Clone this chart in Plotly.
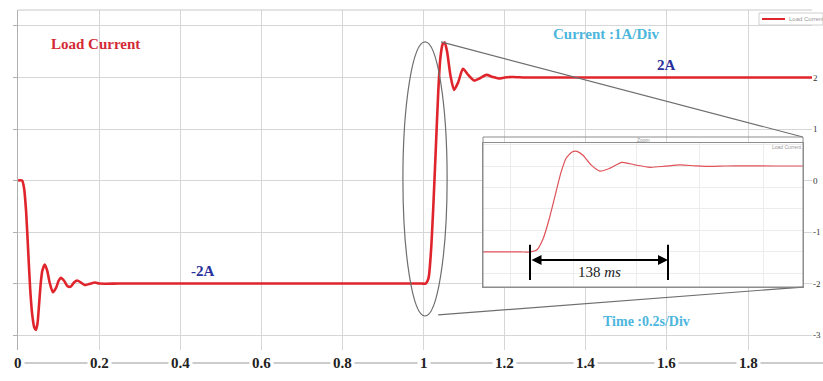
import plotly.graph_objects as go

# ---- load current waveform (time in s, current in A) ----
t_start = [0.000, 0.010, 0.015, 0.020, 0.025, 0.030, 0.035, 0.040, 0.044, 0.048,
           0.052, 0.056, 0.060, 0.066, 0.072, 0.078, 0.086, 0.094, 0.100, 0.106,
           0.114, 0.122, 0.130, 0.138, 0.146, 0.155, 0.165, 0.175, 0.190, 0.200,
           0.250, 0.400, 0.600, 0.800, 0.950, 0.995]
i_start = [0.00, 0.00, -0.15, -0.60, -1.35, -2.10, -2.60, -2.85, -2.90, -2.78,
           -2.40, -2.00, -1.75, -1.63, -1.75, -1.98, -2.17, -2.08, -1.95, -1.89,
           -1.95, -2.05, -2.06, -1.98, -1.94, -1.98, -2.03, -2.01, -1.98, -2.00,
           -2.00, -2.00, -2.00, -2.00, -2.00, -2.00]

t_step = [1.005, 1.012, 1.018, 1.024, 1.030, 1.036, 1.041, 1.047, 1.052, 1.058,
          1.066, 1.075, 1.085, 1.097, 1.110, 1.125, 1.140, 1.155, 1.170, 1.185,
          1.200, 1.220, 1.250, 1.300, 1.400, 1.600, 1.800, 2.000]
i_step = [-2.00, -1.90, -1.40, -0.50, 0.60, 1.70, 2.35, 2.65, 2.68, 2.50,
          2.05, 1.76, 1.90, 2.17, 2.05, 1.94, 1.99, 2.05, 2.01, 1.98,
          2.00, 2.01, 2.00, 2.00, 2.00, 2.00, 2.00, 2.00]

time = t_start + t_step
current = i_start + i_step

# axis ticks
x_ticks = [0, 0.2, 0.4, 0.6, 0.8, 1.0, 1.2, 1.4, 1.6, 1.8]
x_tick_text = ["0", "0.2", "0.4", "0.6", "0.8", "1", "1.2", "1.4", "1.6", "1.8"]
y_ticks = [-3, -2, -1, 0, 1, 2, 3]
y_right_ticks = [-3, -2, -1, 0, 1, 2]
y_right_text = ["-3", "-2", "-1", "0", "1", "2"]

# response time marker in the zoom window
rise_begin = 1.005
rise_time = 0.138

SERIF = "Liberation Serif"
RED = "#e0242c"
GRID = "#d6d6d6"

fig = go.Figure()

fig.add_trace(go.Scatter(
    x=time, y=current, mode="lines", name="Load Current",
    line=dict(color=RED, width=2.6, shape="spline", smoothing=0.6),
    xaxis="x", yaxis="y", showlegend=False, hoverinfo="skip"))

# zoomed view of the step
fig.add_trace(go.Scatter(
    x=time, y=current, mode="lines", name="Load Current",
    line=dict(color="#df5158", width=1.2, shape="spline", smoothing=0.6),
    xaxis="x2", yaxis="y2", showlegend=False, hoverinfo="skip"))

# invisible trace carrying the right-hand axis
fig.add_trace(go.Scatter(x=[0], y=[0], mode="markers", marker=dict(opacity=0),
                         xaxis="x", yaxis="y3", showlegend=False, hoverinfo="skip"))

H = 381.0
W = 823.0
def py(p):
    return 1 - p / H
def px(p):
    return p / W

fig.update_layout(
    width=823, height=381,
    margin=dict(l=0, r=0, t=0, b=0, autoexpand=False),
    paper_bgcolor="white", plot_bgcolor="white",
    xaxis=dict(domain=[px(18), px(812)], range=[0, 1.9576],
               tickvals=x_ticks, showticklabels=False, showgrid=True,
               gridcolor=GRID, gridwidth=1, zeroline=False, showline=False,
               ticks="", automargin=False),
    yaxis=dict(domain=[py(350), py(10)], range=[-3.29, 3.31],
               tickvals=y_ticks, showticklabels=False, showgrid=True,
               gridcolor=GRID, gridwidth=1, zeroline=False,
               showline=True, linecolor="#b0b0b0", linewidth=1,
               ticks="outside", ticklen=4, tickcolor="#b0b0b0", automargin=False),
    yaxis3=dict(overlaying="y", side="right", anchor="x", range=[-3.29, 3.31],
                tickvals=y_right_ticks, ticktext=y_right_text, showgrid=False,
                zeroline=False, showline=False, ticks="", automargin=False,
                tickfont=dict(family=SERIF, size=9, color="#333")),
    xaxis2=dict(domain=[px(483), px(803)], range=[0.958, 1.278], anchor="y2",
                tick0=0.985, dtick=0.0633, showticklabels=False,
                showgrid=True, gridcolor="#ececec", zeroline=False,
                showline=True, mirror=True, linecolor="#8c8c8c", ticks="",
                automargin=False),
    yaxis2=dict(domain=[py(287), py(143)], range=[-3.63, 3.07], anchor="x2",
                dtick=1, showticklabels=False, showgrid=True,
                gridcolor="#ececec", zeroline=False,
                showline=True, mirror=True, linecolor="#8c8c8c", ticks="",
                automargin=False),
)

shapes = []
# top frame line of the main plot
shapes.append(dict(type="line", xref="x domain", yref="y domain", x0=0, x1=1,
                   y0=1, y1=1, line=dict(color="#c8c8c8", width=1)))
# baseline under the time labels
shapes.append(dict(type="line", xref="paper", yref="paper", x0=px(18), x1=1,
                   y0=py(363), y1=py(363), line=dict(color="#9a9a9a", width=1)))
# magnifier ellipse around the step and its connector lines
shapes.append(dict(type="circle", xref="x", yref="y", x0=0.949, x1=1.058,
                   y0=-2.63, y1=2.69, line=dict(color="#6e6e6e", width=1.2)))
shapes.append(dict(type="line", xref="x", yref="y", x0=1.043, y0=2.69,
                   x1=1.935, y1=0.845, line=dict(color="#6e6e6e", width=1.2)))
shapes.append(dict(type="line", xref="x", yref="y", x0=1.036, y0=-2.61,
                   x1=1.935, y1=-2.068, line=dict(color="#6e6e6e", width=1.2)))
# zoom window frame with its header strip
shapes.append(dict(type="rect", xref="paper", yref="paper", x0=px(483), x1=px(803),
                   y0=py(287), y1=py(137), line=dict(color="#8c8c8c", width=1)))
# response-time bars
for xb in (rise_begin, rise_begin + rise_time):
    shapes.append(dict(type="line", xref="x2", yref="y2", x0=xb, x1=xb,
                       y0=-1.67, y1=-3.3, line=dict(color="black", width=2)))
# small legend box, top right
shapes.append(dict(type="rect", xref="paper", yref="paper", x0=px(759), x1=px(823),
                   y0=py(25), y1=py(13), line=dict(color="#d0d0d0", width=1),
                   fillcolor="white"))
shapes.append(dict(type="line", xref="paper", yref="paper", x0=px(762), x1=px(785),
                   y0=py(19), y1=py(19), line=dict(color=RED, width=2)))
fig.update_layout(shapes=shapes)

def label(x, y, text, size, color, xref="paper", yref="paper", family=SERIF, **kw):
    d = dict(x=x, y=y, xref=xref, yref=yref, text=text, showarrow=False,
             xanchor="center", yanchor="middle",
             font=dict(family=family, size=size, color=color))
    d.update(kw)
    return d

ann = []
for xv, txt in zip(x_ticks, x_tick_text):
    ann.append(label(xv, py(363), "<b>%s</b>" % txt, 15, "#222", xref="x",
                     bgcolor="white", borderpad=2))

ann += [
    label(px(95), py(44), "<b>Load Current</b>", 15, "#d42a35"),
    label(px(606), py(34), "<b>Current :1A/Div</b>", 15, "#4cb6dc"),
    label(px(646), py(321), "<b>Time :0.2s/Div</b>", 14, "#4cb6dc"),
    label(1.6, 2.0, "<b>2A</b>", 15, "#28309a", xref="x", yref="y", yshift=12),
    label(0.455, -2.0, "<b>-2A</b>", 15, "#28309a", xref="x", yref="y", yshift=13),
    # response-time arrow and label
    dict(x=rise_begin + rise_time, y=-2.37, ax=rise_begin, ay=-2.37,
         xref="x2", yref="y2", axref="x2", ayref="y2", text="",
         showarrow=True, arrowhead=2, arrowside="end+start", arrowsize=1,
         arrowwidth=2, arrowcolor="black"),
    label(rise_begin + rise_time / 2, -2.93, "138 <i>ms</i>", 15, "#222",
          xref="x2", yref="y2"),
    # zoom window header and legend text
    label(px(643), py(140), "Zoom", 5, "#999", family="Liberation Sans"),
    label(px(787), py(147), "Load Current", 5, "#999", family="Liberation Sans"),
    label(px(787), py(19), "Load Current", 6, "#9a9a9a", family="Liberation Sans",
          xanchor="left"),
]
fig.update_layout(annotations=ann)

fig.write_html("out.html")
